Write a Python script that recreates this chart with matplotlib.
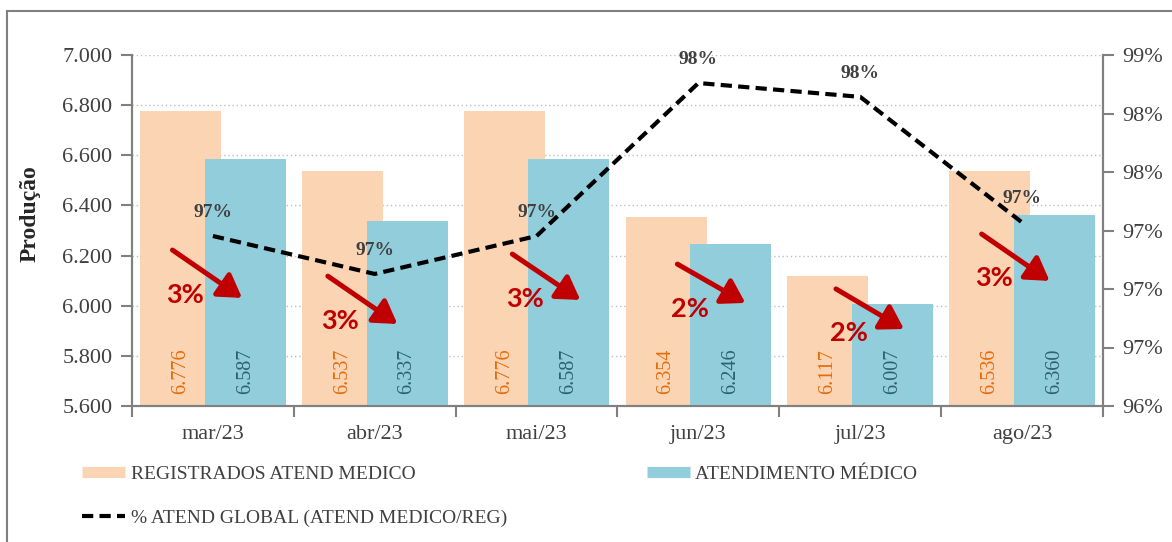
import matplotlib.pyplot as plt
import numpy as np
from matplotlib.lines import Line2D
from matplotlib.ticker import FuncFormatter

meses = ["mar/23", "abr/23", "mai/23", "jun/23", "jul/23", "ago/23"]
registrados = [6776, 6537, 6776, 6354, 6117, 6536]
atendimento = [6587, 6337, 6587, 6246, 6007, 6360]
pct_ticks = ["96%", "97%", "97%", "97%", "98%", "98%", "99%"]

# arrow placement (annotation only): start x offset, start y, end x offset, end y
arrow_pos = [(-0.25, 6222, 0.18, 6031),
             (-0.29, 6118, 0.14, 5927),
             (-0.15, 6206, 0.27, 6023),
             (-0.13, 6166, 0.29, 6011),
             (-0.15, 6067, 0.27, 5907),
             (-0.25, 6286, 0.17, 6099)]

reg = np.array(registrados)
atd = np.array(atendimento)
pct = 100 * atd / reg
queda = 100 * (1 - atd / reg)

PEACH = "#FBD4B4"
BLUE = "#92CDDC"
RED = "#C00000"
GRAY = "#808080"
TXT = "#404040"
SERIF = "Liberation Serif"
DASH = (0, (2.7, 1.5))

def milhar(v, pos):
    return f"{v:,.0f}".replace(",", ".")

fig = plt.figure(figsize=(11.72, 5.42), dpi=100)
ax = fig.add_axes([132/1172, 1-406/542, 971/1172, 351/542])
x = np.arange(len(meses))

ax.bar(x - 0.2, reg, width=0.5, color=PEACH, zorder=2)
ax.bar(x + 0.2, atd, width=0.5, color=BLUE, zorder=3)

for i in range(len(meses)):
    ax.annotate(milhar(reg[i], None), (x[i] - 0.2, 5600), xytext=(0, 9),
                textcoords="offset points", rotation=90, ha="center", va="bottom",
                fontsize=14.5, family=SERIF, color="#E46C0A", zorder=5)
    ax.annotate(milhar(atd[i], None), (x[i] + 0.2, 5600), xytext=(0, 9),
                textcoords="offset points", rotation=90, ha="center", va="bottom",
                fontsize=14.5, family=SERIF, color="#2F6070", zorder=5)

for i, (sx, sy, ex, ey) in enumerate(arrow_pos):
    ax.annotate("", xy=(x[i] + ex, ey), xytext=(x[i] + sx, sy),
                arrowprops=dict(arrowstyle="-|>,head_length=0.55,head_width=0.34",
                                lw=3.6, color=RED, mutation_scale=25,
                                shrinkA=0, shrinkB=0), zorder=6)
    ax.annotate(f"{queda[i]:.0f}%", (x[i] + sx, sy), xytext=(9, -32),
                textcoords="offset points", ha="center", va="center",
                fontsize=19.5, fontweight="bold", family="Lato", color=RED, zorder=6)

ax.set_xlim(-0.5, 5.5)
ax.set_ylim(5600, 7000)
ax.set_yticks(np.arange(5600, 7001, 200))
ax.yaxis.set_major_formatter(FuncFormatter(milhar))
ax.set_xticks(x)
ax.set_xticklabels(meses)
ax.set_xticks(np.arange(-0.5, 6, 1), minor=True)
ax.tick_params(axis="x", which="major", length=0, pad=14, labelsize=16, labelcolor=TXT)
ax.tick_params(axis="x", which="minor", length=8, width=1.5, color=GRAY)
ax.tick_params(axis="y", length=8, width=1.5, color=GRAY, labelsize=16, labelcolor=TXT, pad=6)
for lab in ax.get_xticklabels() + ax.get_yticklabels():
    lab.set_family(SERIF)
ax.yaxis.grid(True, linestyle=(0, (1, 2)), color="#BFBFBF", lw=1)
ax.set_axisbelow(True)
ax.set_ylabel("Produção", fontsize=17, fontweight="bold", family=SERIF, color="#262626")
ax.yaxis.set_label_coords(-0.094, 0.547)
for s in ["left", "right", "bottom"]:
    ax.spines[s].set_color(GRAY)
    ax.spines[s].set_linewidth(1.5)
ax.spines["top"].set_visible(False)

ax2 = ax.twinx()
ax2.plot(x, pct, color="black", lw=3, linestyle=DASH, zorder=4)
for i in range(len(meses)):
    ax2.annotate(f"{pct[i]:.0f}%", (x[i], pct[i]), xytext=(0, 17),
                 textcoords="offset points", ha="center", va="center",
                 fontsize=14, fontweight="bold", family=SERIF, color=TXT)
ax2.set_ylim(96.0, 98.5)
ax2.set_yticks(np.linspace(96.0, 98.5, 7))
ax2.set_yticklabels(pct_ticks)
ax2.tick_params(axis="y", length=8, width=1.5, color=GRAY, labelsize=16, labelcolor=TXT, pad=6)
for lab in ax2.get_yticklabels():
    lab.set_family(SERIF)
for s in ["left", "right", "bottom"]:
    ax2.spines[s].set_color(GRAY)
    ax2.spines[s].set_linewidth(1.5)
ax2.spines["top"].set_visible(False)

handles = [
    Line2D([], [], color=PEACH, lw=8, solid_capstyle="butt"),
    Line2D([], [], color="black", lw=3, linestyle=DASH),
    Line2D([], [], color=BLUE, lw=8, solid_capstyle="butt"),
]
labels = ["REGISTRADOS ATEND MEDICO", "% ATEND GLOBAL (ATEND MEDICO/REG)", "ATENDIMENTO MÉDICO"]
leg = fig.legend(handles, labels, loc="upper left", bbox_to_anchor=(82/1172, 1-465/542),
                 ncol=2, frameon=False, borderpad=0, borderaxespad=0,
                 handlelength=2.2, handletextpad=0.3, labelspacing=1.36, columnspacing=7.2,
                 prop={"family": SERIF, "size": 14})
for t in leg.get_texts():
    t.set_color(TXT)

# outer frame
fig.add_artist(Line2D([7/1172, 7/1172], [0, 1-11/542], color=GRAY, lw=1.5))
fig.add_artist(Line2D([7/1172, 1], [1-11/542, 1-11/542], color=GRAY, lw=1.5))

fig.savefig("out.png", dpi=100)
